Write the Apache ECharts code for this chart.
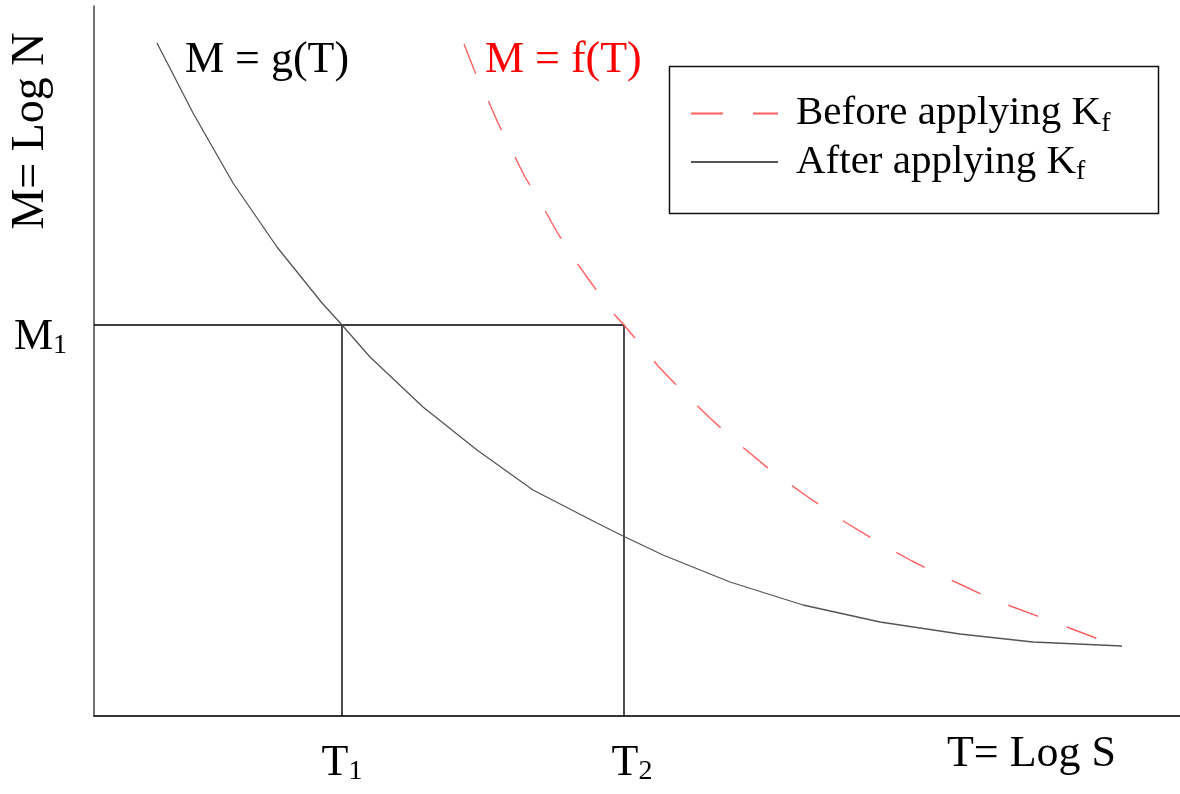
<!DOCTYPE html>
<html>
<head>
<meta charset="utf-8">
<title>M = Log N against T = Log S</title>
<script src="https://cdn.jsdelivr.net/npm/echarts@6.0.0/dist/echarts.min.js"></script>
<style>
  html, body { margin: 0; padding: 0; background: #fff; }
  #chart { width: 1180px; height: 794px; }
</style>
</head>
<body>
<div id="chart"></div>
<script>
// values, in plot units (x: 0..1086, y: 0..710)
const gT = [63, 99, 139, 183, 228, 248, 276, 329, 383, 439, 503, 529, 569, 636, 709, 786, 866, 939, 1028];
const gM = [673, 603, 533, 469, 413, 391, 359, 309, 266, 226, 193, 180, 161, 134, 111, 94, 82, 74, 70];

const fT = [370, 381, 391, 404, 419, 431, 448, 463, 480, 498, 519, 530, 540, 564, 589, 617, 646, 680, 714, 751, 789, 818, 842, 870, 895, 978, 1002, 1028];
const fM = [672, 644, 623, 593, 563, 539, 511, 484, 457, 432, 403, 391, 379, 350, 324, 297, 271, 243, 219, 194, 171, 155, 143, 130, 118, 87, 78, 70];

const T1 = 248;
const T2 = 530;
const M1 = 391;

const xTickValues = [T1, T2];
const xTickLabels = ['T', 'T'];
const xTickSubs = ['1', '2'];
const yTickValues = [M1];
const yTickLabels = ['M'];
const yTickSubs = ['1'];

const beforeName = 'Before applying K_f';
const afterName = 'After applying K_f';

const serif = '"Liberation Serif", "DejaVu Serif", serif';

const zip = (xs, ys) => xs.map((x, i) => [x, ys[i]]);

const chart = echarts.init(document.getElementById('chart'));

const option = {
  animation: false,
  backgroundColor: '#fff',
  tooltip: { show: false },
  grid: { left: 94, right: 0, top: 6, bottom: 78, containLabel: false },
  xAxis: {
    type: 'value',
    min: 0,
    max: 1086,
    axisLine: { show: true, lineStyle: { color: '#333', width: 2 } },
    axisTick: { show: false },
    splitLine: { show: false },
    axisLabel: {
      customValues: xTickValues,
      margin: 24,
      formatter: (v) => {
        const i = xTickValues.indexOf(v);
        if (i < 0) return '';
        // second label sits a little right of its tick in the original
        return (i === 1 ? '{p|}' : '') + '{t|' + xTickLabels[i] + '}{s|' + xTickSubs[i] + '}';
      },
      rich: {
        t: { fontFamily: serif, fontSize: 44, lineHeight: 46, color: '#000' },
        s: { fontFamily: serif, fontSize: 28, lineHeight: 26, color: '#000', verticalAlign: 'bottom' },
        p: { width: 16, lineHeight: 46 }
      }
    }
  },
  yAxis: {
    type: 'value',
    min: 0,
    max: 710,
    axisLine: { show: true, lineStyle: { color: '#444', width: 1.5 } },
    axisTick: { show: false },
    splitLine: { show: false },
    axisLabel: {
      customValues: yTickValues,
      margin: 27,
      padding: [24, 0, 0, 0],
      formatter: (v) => {
        const i = yTickValues.indexOf(v);
        return i < 0 ? '' : '{t|' + yTickLabels[i] + '}{s|' + yTickSubs[i] + '}';
      },
      rich: {
        t: { fontFamily: serif, fontSize: 44, lineHeight: 46, color: '#000' },
        s: { fontFamily: serif, fontSize: 28, lineHeight: 26, color: '#000', verticalAlign: 'bottom' }
      }
    }
  },
  legend: {
    data: [beforeName, afterName],
    orient: 'vertical',
    left: 690,
    top: 93,
    itemWidth: 87,
    itemHeight: 14,
    itemGap: 4,
    padding: 0,
    selectedMode: false,
    itemStyle: { opacity: 0 },
    formatter: (name) => '{n|' + name.replace('_f', '') + '}{s|f}',
    textStyle: {
      padding: [0, 0, 0, 13],
      rich: {
        n: { fontFamily: serif, fontSize: 41, lineHeight: 48, color: '#000' },
        s: { fontFamily: serif, fontSize: 28, lineHeight: 24, color: '#000', verticalAlign: 'bottom' }
      }
    }
  },
  graphic: [
    {
      type: 'rect',
      shape: { x: 669.5, y: 66.5, width: 489, height: 147 },
      style: { fill: 'none', stroke: '#111', lineWidth: 1.5 },
      z: 10
    },
    {
      type: 'text',
      x: 185, y: 60,
      style: { text: 'M = g(T)', font: '44px ' + serif, fill: '#000', align: 'left', verticalAlign: 'middle', textAlign: 'left', textVerticalAlign: 'middle' }
    },
    {
      type: 'text',
      x: 485, y: 60,
      style: { text: 'M = f(T)', font: '44px ' + serif, fill: '#ff0000', align: 'left', verticalAlign: 'middle', textAlign: 'left', textVerticalAlign: 'middle' }
    },
    {
      type: 'text',
      x: 31, y: 131,
      rotation: Math.PI / 2,
      style: { text: 'M= Log N', font: '46px ' + serif, fill: '#000', align: 'center', verticalAlign: 'middle', textAlign: 'center', textVerticalAlign: 'middle' }
    },
    {
      type: 'text',
      x: 1116, y: 754,
      style: { text: 'T= Log S', font: '44px ' + serif, fill: '#000', align: 'right', verticalAlign: 'middle', textAlign: 'right', textVerticalAlign: 'middle' }
    }
  ],
  series: [
    {
      name: beforeName,
      type: 'line',
      data: zip(fT, fM),
      symbol: 'none',
      smooth: false,
      silent: true,
      color: '#ff5f5f',
      lineStyle: { color: '#ff5f5f', width: 1.4, type: [32, 30] },
      z: 3
    },
    {
      name: afterName,
      type: 'line',
      data: zip(gT, gM),
      symbol: 'none',
      smooth: false,
      silent: true,
      color: '#555',
      lineStyle: { color: '#555', width: 1.3 },
      z: 3
    },
    {
      name: 'guide M1',
      type: 'line',
      data: [[0, M1], [T2, M1], [T2, 0]],
      symbol: 'none',
      silent: true,
      lineStyle: { color: '#000', width: 1.4 },
      z: 2
    },
    {
      name: 'guide T1',
      type: 'line',
      data: [[T1, M1], [T1, 0]],
      symbol: 'none',
      silent: true,
      lineStyle: { color: '#000', width: 1.4 },
      z: 2
    }
  ]
};

chart.setOption(option);
</script>
</body>
</html>
